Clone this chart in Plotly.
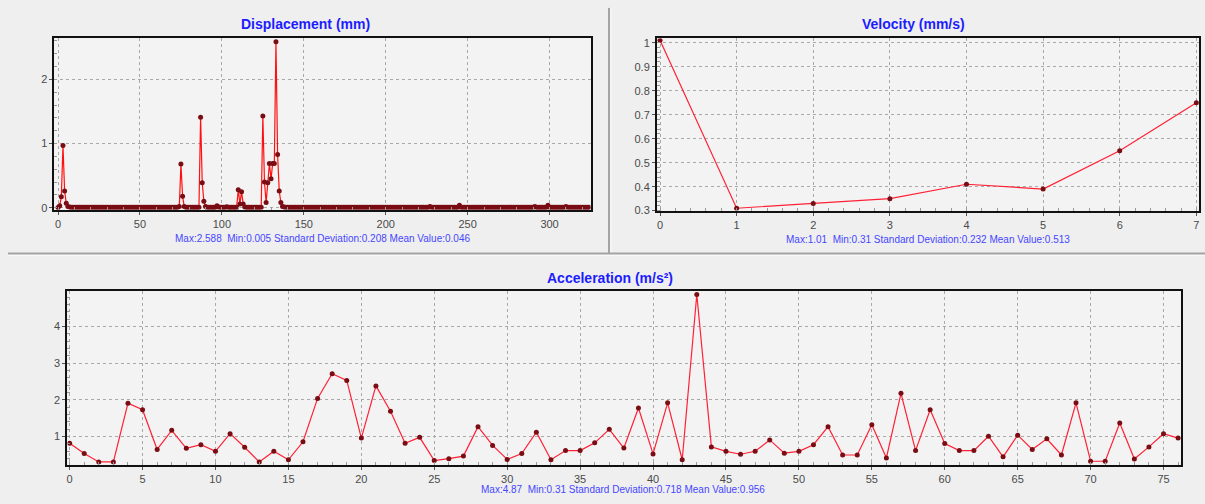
import plotly.graph_objects as go

# ---- data -------------------------------------------------------------
displacement = [
    0.005, 0.03, 0.17, 0.97, 0.26, 0.07, 0.02, 0.01, 0.008, 0.007, 0.006, 0.008, 0.007, 0.006, 0.007, 0.008, 0.006, 0.007, 0.006, 0.008,
    0.007, 0.006, 0.008, 0.007, 0.006, 0.007, 0.006, 0.008, 0.007, 0.006, 0.007, 0.008, 0.006, 0.007, 0.006, 0.008, 0.007, 0.006, 0.007, 0.006,
    0.008, 0.007, 0.006, 0.007, 0.008, 0.006, 0.007, 0.006, 0.008, 0.007, 0.006, 0.007, 0.008, 0.006, 0.007, 0.006, 0.008, 0.007, 0.006, 0.007,
    0.006, 0.008, 0.007, 0.006, 0.007, 0.008, 0.006, 0.007, 0.006, 0.008, 0.007, 0.006, 0.007, 0.008, 0.02, 0.68, 0.18, 0.02, 0.008, 0.007,
    0.006, 0.007, 0.008, 0.006, 0.007, 0.006, 0.008, 1.41, 0.39, 0.10, 0.02, 0.008, 0.007, 0.006, 0.007, 0.008, 0.006, 0.03, 0.01, 0.007,
    0.006, 0.008, 0.007, 0.015, 0.007, 0.006, 0.008, 0.007, 0.006, 0.007, 0.28, 0.06, 0.25, 0.06, 0.01, 0.007, 0.006, 0.008, 0.007, 0.006,
    0.007, 0.008, 0.006, 0.007, 0.006, 1.43, 0.40, 0.08, 0.39, 0.69, 0.45, 0.69, 0.69, 2.588, 0.83, 0.26, 0.08, 0.02, 0.01, 0.008,
    0.007, 0.006, 0.008, 0.007, 0.006, 0.007, 0.008, 0.006, 0.007, 0.006, 0.008, 0.007, 0.006, 0.007, 0.008, 0.006, 0.007, 0.006, 0.008, 0.007,
    0.006, 0.007, 0.008, 0.006, 0.007, 0.006, 0.008, 0.007, 0.006, 0.007, 0.008, 0.006, 0.007, 0.006, 0.008, 0.007, 0.006, 0.007, 0.008, 0.006,
    0.007, 0.006, 0.008, 0.007, 0.006, 0.007, 0.008, 0.006, 0.007, 0.006, 0.008, 0.007, 0.006, 0.007, 0.008, 0.006, 0.007, 0.006, 0.008, 0.007,
    0.006, 0.007, 0.008, 0.006, 0.007, 0.006, 0.008, 0.007, 0.006, 0.007, 0.008, 0.006, 0.007, 0.006, 0.008, 0.007, 0.006, 0.007, 0.008, 0.006,
    0.007, 0.006, 0.008, 0.007, 0.006, 0.007, 0.008, 0.02, 0.007, 0.006, 0.008, 0.007, 0.006, 0.007, 0.008, 0.006, 0.007, 0.006, 0.008, 0.007,
    0.006, 0.007, 0.008, 0.006, 0.007, 0.04, 0.008, 0.007, 0.006, 0.007, 0.008, 0.006, 0.007, 0.006, 0.008, 0.007, 0.006, 0.007, 0.008, 0.006,
    0.007, 0.006, 0.008, 0.007, 0.006, 0.007, 0.008, 0.006, 0.007, 0.006, 0.008, 0.007, 0.006, 0.007, 0.008, 0.006, 0.007, 0.006, 0.008, 0.007,
    0.006, 0.007, 0.008, 0.006, 0.007, 0.006, 0.008, 0.007, 0.006, 0.007, 0.008, 0.02, 0.007, 0.006, 0.008, 0.007, 0.006, 0.007, 0.008, 0.04,
    0.007, 0.006, 0.008, 0.007, 0.006, 0.007, 0.008, 0.006, 0.007, 0.006, 0.02, 0.007, 0.006, 0.007, 0.008, 0.006, 0.007, 0.006, 0.008, 0.007,
    0.006, 0.007, 0.008, 0.006, 0.007,
]

velocity = [1.01, 0.31, 0.33, 0.35, 0.41, 0.39, 0.55, 0.75]

acceleration = [
    0.82, 0.54, 0.31, 0.31, 1.91, 1.73, 0.65, 1.17, 0.68, 0.78,
    0.60, 1.08, 0.71, 0.31, 0.60, 0.37, 0.86, 2.04, 2.71, 2.53,
    0.96, 2.38, 1.69, 0.82, 0.98, 0.35, 0.40, 0.47, 1.27, 0.76,
    0.38, 0.54, 1.12, 0.37, 0.62, 0.62, 0.83, 1.20, 0.69, 1.78,
    0.53, 1.92, 0.37, 4.87, 0.72, 0.60, 0.52, 0.60, 0.91, 0.55,
    0.60, 0.78, 1.27, 0.50, 0.50, 1.32, 0.42, 2.18, 0.62, 1.73,
    0.81, 0.62, 0.62, 1.01, 0.45, 1.04, 0.65, 0.94, 0.50, 1.92,
    0.33, 0.33, 1.37, 0.39, 0.72, 1.08, 0.96,
]

titles = ["Displacement (mm)", "Velocity (mm/s)", "Acceleration (m/s²)"]
stats = [
    "Max:2.588  Min:0.005 Standard Deviation:0.208 Mean Value:0.046",
    "Max:1.01  Min:0.31 Standard Deviation:0.232 Mean Value:0.513",
    "Max:4.87  Min:0.31 Standard Deviation:0.718 Mean Value:0.956",
]

# ---- layout helpers ----------------------------------------------------
W, H = 1205, 504


def fx(p):
    return p / W


def fy(p):
    return 1 - p / H


FONT = "Liberation Sans, Arial, sans-serif"
TITLE_BLUE = "#1c1cff"
STAT_BLUE = "#4646ff"
LINE_RED = "#ff2035"
MARK_RED = "#7a0c14"
GRID = "#a9a9a9"


def axis_style(rng, dtick, domain, anchor):
    return dict(
        range=rng,
        dtick=dtick,
        domain=domain,
        anchor=anchor,
        showline=True,
        linecolor="#111111",
        linewidth=2,
        mirror=True,
        showgrid=True,
        gridcolor=GRID,
        gridwidth=1,
        griddash="3px,3px",
        zeroline=False,
        ticks="outside",
        ticklen=3,
        tickcolor="#555555",
        tickfont=dict(family=FONT, size=11, color="#4a4a4a"),
        minor=dict(ticks="inside", ticklen=3, tickcolor="#9a9a9a", nticks=5, showgrid=False),
        fixedrange=True,
    )


fig = go.Figure()

fig.add_trace(go.Scatter(
    x=list(range(len(displacement))), y=displacement, mode="lines+markers",
    line=dict(color="#ff1010", width=1.2),
    marker=dict(size=5, color=MARK_RED),
    xaxis="x", yaxis="y", showlegend=False, hoverinfo="x+y",
))
fig.add_trace(go.Scatter(
    x=list(range(len(velocity))), y=velocity, mode="lines+markers",
    line=dict(color=LINE_RED, width=1.2),
    marker=dict(size=5, color=MARK_RED),
    xaxis="x2", yaxis="y2", showlegend=False, hoverinfo="x+y",
))
fig.add_trace(go.Scatter(
    x=list(range(len(acceleration))), y=acceleration, mode="lines+markers",
    line=dict(color=LINE_RED, width=1.2),
    marker=dict(size=5, color=MARK_RED),
    xaxis="x3", yaxis="y3", showlegend=False, hoverinfo="x+y",
))

# plot areas (in pixels of the 1205x504 page)
d_x, d_y = [fx(53.5), fx(590)], [fy(211), fy(37)]
v_x, v_y = [fx(656.5), fx(1199)], [fy(212), fy(37)]
a_x, a_y = [fx(66.5), fx(1181)], [fy(470), fy(294)]

fig.update_layout(
    width=W, height=H,
    margin=dict(l=0, r=0, t=0, b=0),
    paper_bgcolor="#efefef",
    plot_bgcolor="#f3f3f3",
    font=dict(family=FONT),
    xaxis=axis_style([-2.2, 325], 50, d_x, "y"),
    yaxis=axis_style([-0.03, 2.64], 1, d_y, "x"),
    xaxis2=axis_style([-0.04, 7.035], 1, v_x, "y2"),
    yaxis2=axis_style([0.3, 1.018], 0.1, v_y, "x2"),
    xaxis3=axis_style([-0.15, 76.2], 5, a_x, "y3"),
    yaxis3=axis_style([0.24, 4.955], 1, a_y, "x3"),
)

annotations = []
for text, cx, cy in [(titles[0], 305, 22), (titles[1], 913, 22), (titles[2], 610, 280)]:
    annotations.append(dict(
        text=f"<b>{text}</b>", x=fx(cx), y=fy(cy), xref="paper", yref="paper",
        xanchor="center", yanchor="middle", showarrow=False,
        font=dict(family=FONT, size=14, color=TITLE_BLUE),
    ))
for text, cx, cy in [(stats[0], 322, 240), (stats[1], 928, 241), (stats[2], 623, 495)]:
    annotations.append(dict(
        text=text, x=fx(cx), y=fy(cy), xref="paper", yref="paper",
        xanchor="center", yanchor="middle", showarrow=False,
        font=dict(family=FONT, size=10, color=STAT_BLUE),
    ))
fig.update_layout(annotations=annotations)

# panel dividers with a light edge for a sunken look
shapes = [
    dict(type="line", xref="paper", yref="paper", x0=fx(608.5), x1=fx(608.5), y0=fy(6), y1=fy(255),
         line=dict(color="#a4a4a4", width=2)),
    dict(type="line", xref="paper", yref="paper", x0=fx(610.5), x1=fx(610.5), y0=fy(6), y1=fy(254),
         line=dict(color="#fafafa", width=1)),
    dict(type="line", xref="paper", yref="paper", x0=fx(7), x1=1, y0=fy(255.5), y1=fy(255.5),
         line=dict(color="#a4a4a4", width=2)),
    dict(type="line", xref="paper", yref="paper", x0=fx(7), x1=1, y0=fy(257.5), y1=fy(257.5),
         line=dict(color="#fafafa", width=1)),
]
fig.update_layout(shapes=shapes)

fig.write_html("out.html")
